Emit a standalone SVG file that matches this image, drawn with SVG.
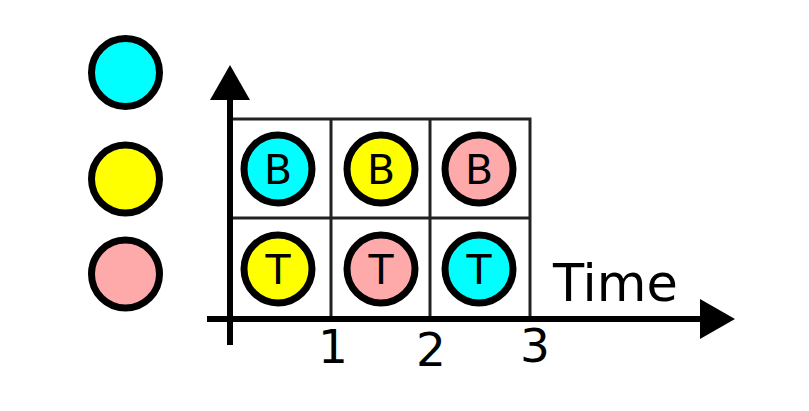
<svg xmlns="http://www.w3.org/2000/svg" width="809" height="411" viewBox="0 0 809 411">
<style>
.c{stroke:#000;stroke-width:7}
.cy{fill:#00ffff}.ye{fill:#ffff00}.pk{fill:#ffaaaa}
.g{stroke:#222;stroke-width:3;fill:none}
.ax{stroke:#000;stroke-width:6;fill:none}
text{font-family:"DejaVu Sans",sans-serif;fill:#000}
.l{font-size:41px;text-anchor:middle}
.n{font-size:47px;text-anchor:middle}
</style>
<g id="legend">
<circle class="c cy" cx="125.5" cy="72.5" r="34"/>
<circle class="c ye" cx="125.5" cy="179" r="34"/>
<circle class="c pk" cx="125.5" cy="274" r="34"/>
</g>
<g id="grid">
<path class="g" d="M230 119H530V319M230 218H530M331 119V319M430 119V319"/>
</g>
<g id="axes">
<path class="ax" d="M230 95V345M207 319H705"/>
<polygon points="230,65 250,100 210,100"/>
<polygon points="735,319 700,299 700,339"/>
</g>
<g id="cell-B1"><circle class="c cy" cx="278" cy="169" r="34"/><text class="l" x="278" y="184">B</text></g>
<g id="cell-B2"><circle class="c ye" cx="381" cy="169" r="34"/><text class="l" x="381" y="184">B</text></g>
<g id="cell-B3"><circle class="c pk" cx="479" cy="169" r="34"/><text class="l" x="479" y="184">B</text></g>
<g id="cell-T1"><circle class="c ye" cx="278" cy="269" r="34"/><text class="l" x="278" y="284">T</text></g>
<g id="cell-T2"><circle class="c pk" cx="381" cy="269" r="34"/><text class="l" x="381" y="284">T</text></g>
<g id="cell-T3"><circle class="c cy" cx="479" cy="269" r="34"/><text class="l" x="479" y="284">T</text></g>
<g id="labels">
<text x="553" y="301" font-size="51">Time</text>
<text class="n" x="333" y="363">1</text>
<text class="n" x="431" y="366">2</text>
<text class="n" x="535" y="362">3</text>
</g>
</svg>
